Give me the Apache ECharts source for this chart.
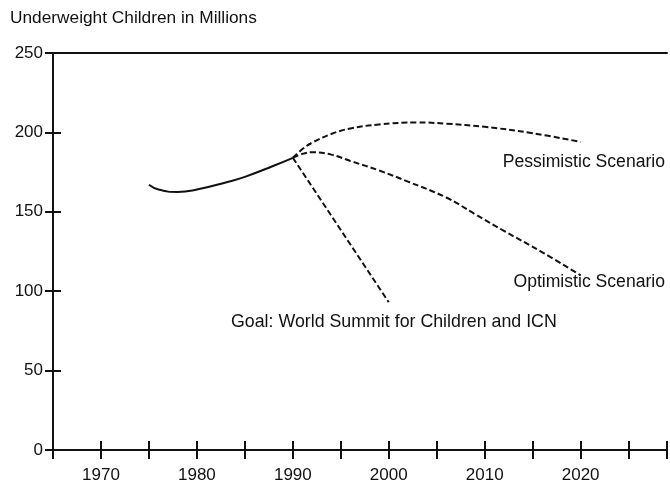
<!DOCTYPE html>
<html>
<head>
<meta charset="utf-8">
<script src="https://cdn.jsdelivr.net/npm/echarts@6/dist/echarts.min.js"></script>
<style>
  html, body { margin: 0; padding: 0; background: #fff; }
  #chart { width: 670px; height: 484px; }
</style>
</head>
<body>
<div id="chart"></div>
<script>
// data (year, millions)
var observed = [[1975, 167], [1976, 164], [1978, 162.5], [1980, 164], [1983, 168.5], [1985, 172], [1988, 179], [1990, 184]];
var pessimistic = [[1990, 184], [1991, 189.5], [1992, 193.5], [1994, 199], [1996, 202.5], [1999, 205], [2003, 206.3], [2006, 205.5], [2010, 203.5], [2015, 199.5], [2020, 194]];
var optimistic = [[1990, 184], [1991, 186.5], [1992, 187.5], [1994, 186], [1996, 182], [1999, 176], [2002, 169], [2006, 159], [2009, 148.5], [2012, 138], [2016, 124.5], [2020, 110]];
var goal = [[1990, 184], [2000, 93]];
var yTicks = [0, 50, 100, 150, 200, 250];
var xLabels = [1970, 1980, 1990, 2000, 2010, 2020];

var chart = echarts.init(document.getElementById("chart"));
var font = "'Liberation Sans', Arial, Helvetica, sans-serif";
var ink = "#111";

function baseX(extra) {
  return Object.assign({
    type: "value",
    min: 1965,
    max: 2029,
    interval: 5,
    position: "bottom",
    splitLine: { show: false },
    axisLine: { show: true, lineStyle: { color: ink, width: 2 } },
    axisTick: { show: true, length: 9, lineStyle: { color: ink, width: 2 } },
    axisLabel: { show: false },
  }, extra);
}
function baseY(extra) {
  return Object.assign({
    type: "value",
    min: yTicks[0],
    max: yTicks[yTicks.length - 1],
    interval: 50,
    position: "left",
    splitLine: { show: false },
    axisLine: { show: true, onZero: false, lineStyle: { color: ink, width: 2 } },
    axisTick: { show: true, length: 8, lineStyle: { color: ink, width: 2 } },
    axisLabel: { show: false },
  }, extra);
}

function dashed(name, data) {
  return {
    name: name,
    type: "line",
    data: data,
    smooth: 0.4,
    symbol: "none",
    lineStyle: { color: ink, width: 2, type: [6, 3] },
  };
}

var option = {
  animation: false,
  backgroundColor: "#fff",
  grid: { left: 53, right: 0, top: 53, bottom: 32 },
  xAxis: [
    baseX({
      axisLabel: {
        show: true,
        margin: 17,
        color: ink,
        fontSize: 17,
        fontFamily: font,
        formatter: function (v) {
          return xLabels.indexOf(v) >= 0 ? String(v) : "";
        },
      },
    }),
    baseX({ axisLine: { show: false }, axisTick: { show: true, inside: true, length: 9, lineStyle: { color: ink, width: 2 } } }),
    baseX({ position: "top", axisTick: { show: false } }),
  ],
  yAxis: [
    baseY({
      axisLabel: { show: true, margin: 10, color: ink, fontSize: 17, fontFamily: font },
    }),
    baseY({ axisLine: { show: false }, axisTick: { show: true, inside: true, length: 8, lineStyle: { color: ink, width: 2 } } }),
  ],
  series: [
    {
      name: "Observed",
      type: "line",
      data: observed,
      smooth: 0.5,
      symbol: "none",
      lineStyle: { color: ink, width: 2 },
    },
    dashed("Pessimistic Scenario", pessimistic),
    dashed("Optimistic Scenario", optimistic),
    Object.assign(dashed("Goal", goal), { smooth: false }),
  ],
  graphic: [
    { type: "text", left: 10, top: 10, style: { text: "Underweight Children in Millions", fill: ink, font: "17.3px " + font } },
    { type: "text", right: 5, top: 153, style: { text: "Pessimistic Scenario", fill: ink, font: "17.6px " + font } },
    { type: "text", right: 5, top: 273, style: { text: "Optimistic Scenario", fill: ink, font: "17.6px " + font } },
    { type: "text", left: 231, top: 313, style: { text: "Goal: World Summit for Children and ICN", fill: ink, font: "17.8px " + font } },
  ],
};

chart.setOption(option);
window.addEventListener("resize", function () {
  chart.resize();
});
</script>
</body>
</html>
